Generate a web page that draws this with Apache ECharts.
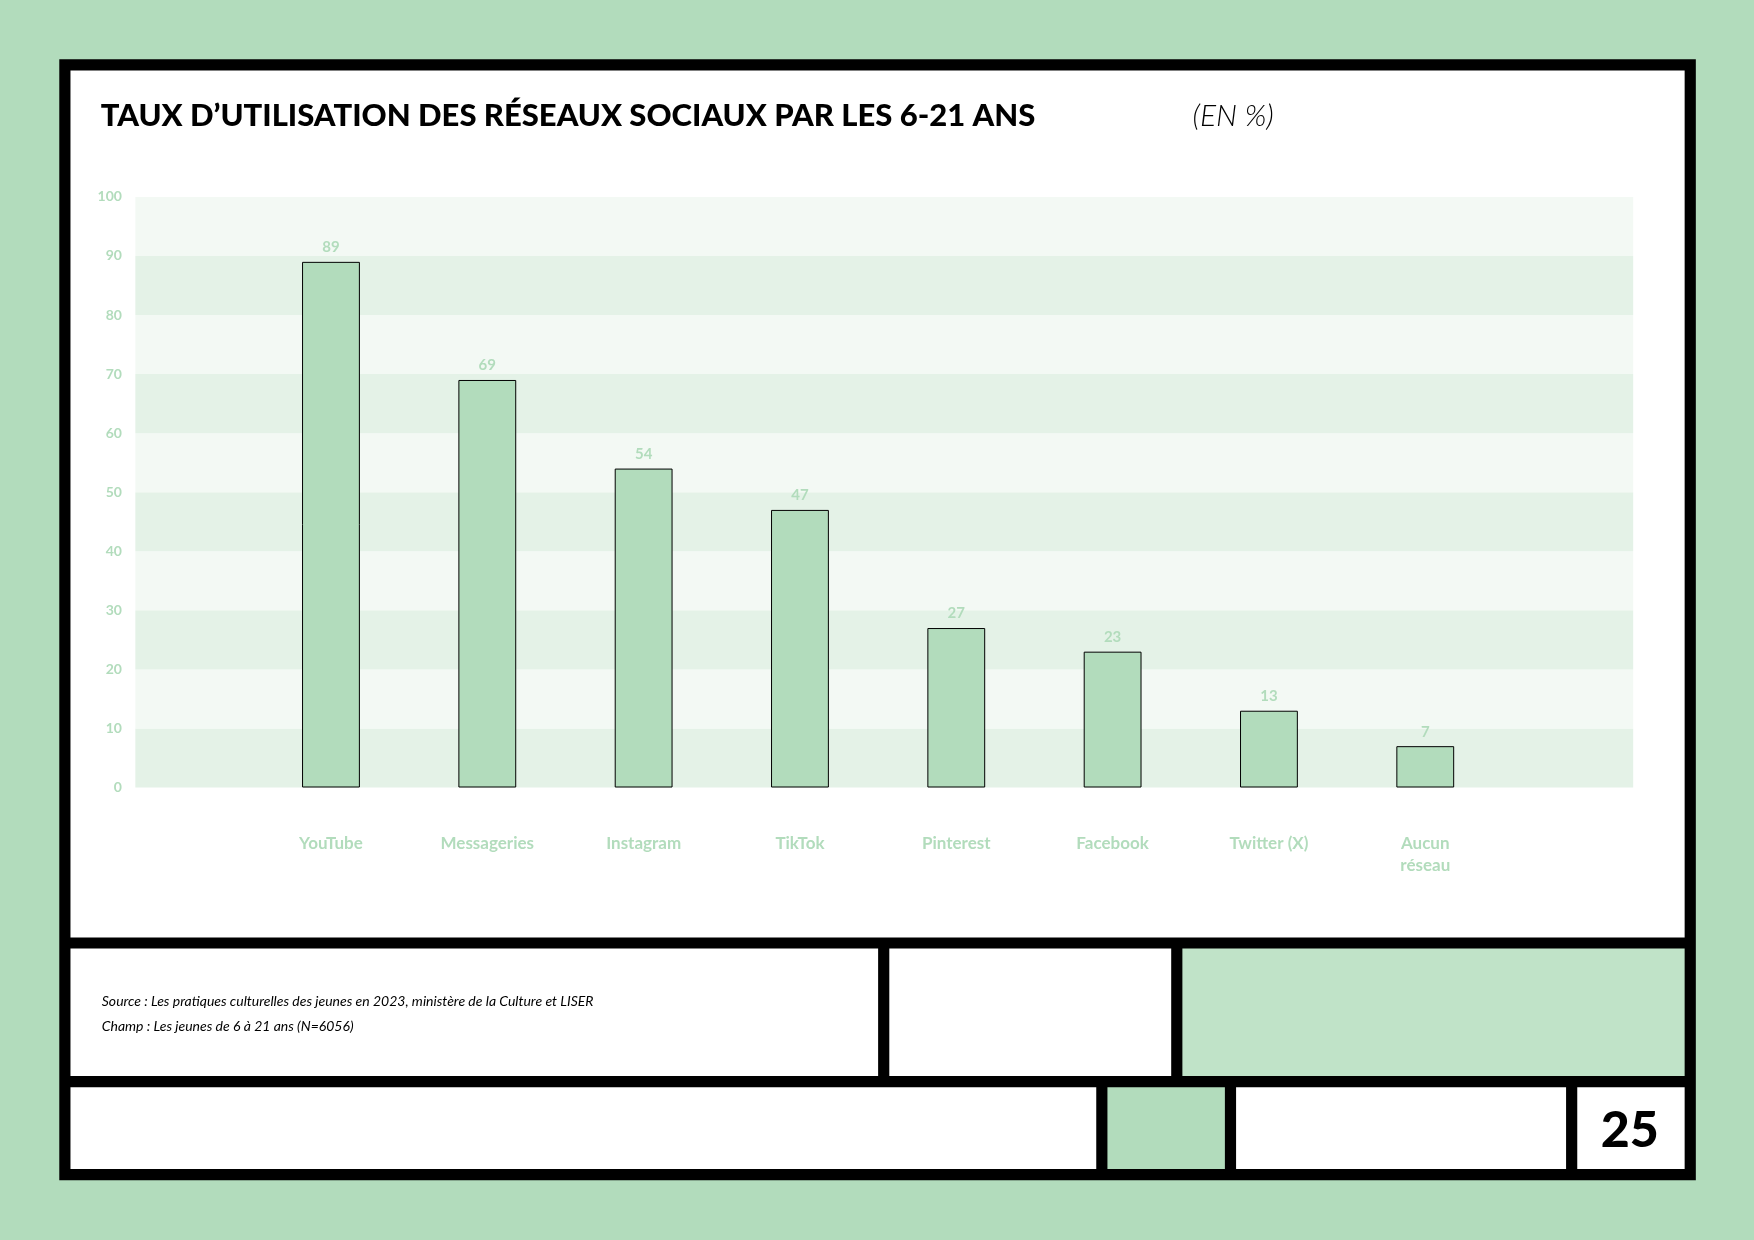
<!DOCTYPE html><html><head><meta charset="utf-8"><script src="https://cdn.jsdelivr.net/npm/echarts@6/dist/echarts.min.js"></script>
<style>html,body{margin:0;padding:0;background:#b2dcbc}#c{width:1754px;height:1240px}</style></head><body><div id="c"></div><script>
const categories=['YouTube','Messageries','Instagram','TikTok','Pinterest','Facebook','Twitter (X)','Aucun\nréseau'];
const values=[89,69,54,47,27,23,13,7];
const yTicks=[0,10,20,30,40,50,60,70,80,90,100];
const S=1754/1568;
const G='#b2dcbc';
function r(x1,y1,x2,y2,fill){return {type:'rect',shape:{x:x1*S,y:y1*S,width:(x2-x1)*S,height:(y2-y1)*S},style:{fill:fill},silent:true,z:-10};}
const graphics=[
 r(53,53,1516,1055,'#000'),
 r(63,63,1506,838,'#fff'),
 r(63,848,785,962,'#fff'),r(795,848,1047,962,'#fff'),r(1057,848,1506,962,'#c0e3c8'),
 r(63,972,980,1045,'#fff'),r(990,972,1095,1045,G),r(1105,972,1400,1045,'#fff'),r(1410,972,1506,1045,'#fff'),
 {type:'text',x:90*S,y:104*S,style:{text:'TAUX D’UTILISATION DES RÉSEAUX SOCIAUX PAR LES 6-21 ANS',font:'900 31px Lato',fill:'#000',verticalAlign:'middle'},z:10},
 {type:'text',x:1066*S,y:104*S,style:{text:'(EN %)',font:'italic 300 30px Lato',fill:'#000',verticalAlign:'middle'},z:10},
 {type:'text',x:91*S,y:895*S,style:{text:'Source : Les pratiques culturelles des jeunes en 2023, ministère de la Culture et LISER',font:'italic 14px Lato',fill:'#000',verticalAlign:'middle'},z:10},
 {type:'text',x:91*S,y:918*S,style:{text:'Champ : Les jeunes de 6 à 21 ans (N=6056)',font:'italic 14px Lato',fill:'#000',verticalAlign:'middle'},z:10},
 {type:'text',x:1457*S,y:1011*S,style:{text:'25',font:'900 50px Lato',fill:'#000',align:'center',verticalAlign:'middle'},z:10}
];
const chart=echarts.init(document.getElementById('c'));
chart.setOption({
 animation:false,
 graphic:graphics,
 grid:[{left:121*S,right:1754-1460*S,top:176*S,bottom:1240-704*S},
       {left:226*S,right:1754-1344*S,top:176*S,bottom:1240-704*S}],
 xAxis:[{gridIndex:0,type:'value',show:false,min:0,max:1},
  {gridIndex:1,type:'category',data:categories,axisLine:{show:false},axisTick:{show:false},
   axisLabel:{margin:40*S,color:G,fontFamily:'Lato',fontWeight:'bold',fontSize:17,lineHeight:22}}],
 yAxis:[{gridIndex:0,type:'value',min:0,max:100,interval:10,
   axisLine:{show:false},axisTick:{show:false},splitLine:{show:false},
   splitArea:{show:true,areaStyle:{color:['#e4f2e7','#f3f9f4']}},
   axisLabel:{margin:12*S,color:G,fontFamily:'Lato',fontWeight:'bold',fontSize:14,
     formatter:v=>yTicks.includes(v)?String(v):''}},
  {gridIndex:1,type:'value',min:0,max:100,interval:10,show:false}],
 series:[{type:'bar',xAxisIndex:1,yAxisIndex:1,data:values,barWidth:'37%',
   itemStyle:{color:G,borderColor:'#000',borderWidth:1},
   label:{show:true,position:'top',distance:7,color:G,fontFamily:'Lato',fontWeight:'bold',fontSize:15}}]
});
</script></body></html>
